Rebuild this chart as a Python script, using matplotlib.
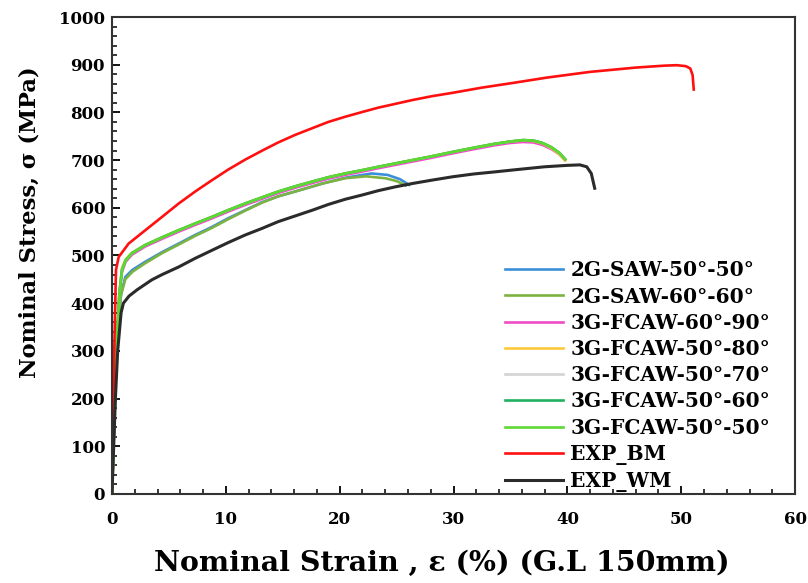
import numpy as np
import matplotlib
matplotlib.use("Agg")
import matplotlib.pyplot as plt
from matplotlib.ticker import MultipleLocator

plt.rcParams["font.family"] = ["DejaVu Serif"]
plt.rcParams["font.weight"] = "bold"

saw50_x = [0, 0.3, 0.5, 0.8, 1.17, 1.8, 2.93, 4.4, 5.86, 7.3, 8.79, 10.2, 11.7, 13.2, 14.6, 16.5, 18.5, 20.5, 22.8, 24.2, 25.3, 26.1]
saw50_y = [0, 250, 350, 420, 455, 470, 487, 507, 525, 543, 560, 578, 595, 612, 624, 637, 651, 663, 672, 669, 660, 648]

saw60_x = [0, 0.3, 0.5, 0.8, 1.17, 1.8, 2.93, 4.4, 5.86, 7.3, 8.79, 10.2, 11.7, 13.2, 14.6, 16.5, 18.5, 20.5, 22.3, 24.0, 25.0, 25.8]
saw60_y = [0, 250, 350, 418, 450, 466, 484, 505, 523, 541, 558, 576, 594, 611, 624, 637, 651, 662, 666, 662, 656, 647]

fcaw_x = [0, 0.4, 0.65, 0.88, 1.2, 1.76, 2.93, 4.4, 5.86, 7.3, 8.79, 10.2, 11.7, 13.2, 14.6, 16.1, 17.6, 19.0, 20.5, 22.0, 23.4, 24.9,
          26.4, 28.1, 29.9, 31.8, 33.6, 35.0, 36.1, 37.0, 37.8, 38.6, 39.3, 39.8]
fcaw_y = [0, 300, 420, 470, 490, 505, 522, 538, 553, 567, 581, 595, 609, 622, 634, 645, 655, 664, 672, 679, 686, 693,
          700, 708, 717, 726, 734, 739, 742, 741, 736, 727, 715, 702]
f6090_y = [0, 300, 420, 466, 487, 502, 519, 535, 550, 564, 578, 592, 606, 619, 631, 642, 652, 661, 669, 676, 683, 690,
           697, 705, 714, 723, 731, 736, 738, 737, 732, 723, 712, 700]
f5080_y = [0, 300, 420, 474, 492, 506, 522, 538, 553, 567, 581, 595, 609, 622, 634, 645, 655, 664, 672, 679, 686, 693,
           700, 708, 717, 726, 734, 739, 741, 740, 735, 725, 712, 699]

bm_x = [0, 0.2, 0.35, 0.59, 1.46, 2.93, 4.4, 5.86, 7.3, 8.79, 10.2, 11.7, 13.2, 14.6, 16.1, 17.6, 19.0, 20.5, 22.0, 23.4, 24.9,
        26.4, 28.1, 29.9, 32.5, 35.0, 38.2, 42.0, 46.0, 48.5, 49.6, 50.4, 50.8, 51.0, 51.1]
bm_y = [0, 300, 470, 497, 525, 553, 581, 609, 634, 658, 680, 701, 720, 737, 753, 767, 780, 791, 801, 810, 818,
        826, 834, 841, 852, 861, 873, 885, 894, 898, 899, 897, 892, 878, 848]

wm_x = [0, 0.3, 0.5, 0.8, 1.0, 1.5, 2.2, 3.5, 4.4, 5.86, 7.3, 8.79, 10.2, 11.7, 13.2, 14.6, 16.1, 17.6, 19.0, 20.5, 22.0, 23.4,
        24.9, 26.4, 28.1, 29.9, 31.8, 33.5, 35.5, 38.0, 40.0, 41.1, 41.7, 42.1, 42.4]
wm_y = [0, 200, 300, 380, 400, 415, 428, 449, 460, 476, 494, 511, 527, 543, 557, 571, 583, 595, 607, 618, 627, 636,
        644, 651, 658, 665, 671, 675, 680, 686, 689, 690, 686, 672, 641]

fig = plt.figure(figsize=(8.08, 5.83), dpi=100)
ax = fig.add_axes([0.1386, 0.1527, 0.8454, 0.8181])

lw = 1.9
ax.plot(saw50_x, saw50_y, color="#3A8FD8", lw=lw, label="2G-SAW-50°-50°")
ax.plot(saw60_x, saw60_y, color="#7CB342", lw=lw, label="2G-SAW-60°-60°")
ax.plot(fcaw_x, f6090_y, color="#F04BC8", lw=lw, label="3G-FCAW-60°-90°")
ax.plot(fcaw_x, f5080_y, color="#FFC83A", lw=lw, label="3G-FCAW-50°-80°")
ax.plot(fcaw_x, fcaw_y, color="#D3D3D3", lw=lw, label="3G-FCAW-50°-70°")
ax.plot(fcaw_x, fcaw_y, color="#1FB060", lw=lw, label="3G-FCAW-50°-60°")
ax.plot(fcaw_x, fcaw_y, color="#5ED833", lw=lw, label="3G-FCAW-50°-50°")
ax.plot(bm_x, bm_y, color="#FF1010", lw=lw, label="EXP_BM")
ax.plot(wm_x, wm_y, color="#2B2B2B", lw=2.2, label="EXP_WM")

ax.set_xlim(0, 60)
ax.set_ylim(0, 1000)
ax.xaxis.set_major_locator(MultipleLocator(10))
ax.xaxis.set_minor_locator(MultipleLocator(2))
ax.yaxis.set_major_locator(MultipleLocator(100))
ax.yaxis.set_minor_locator(MultipleLocator(20))
ax.tick_params(which="major", direction="in", length=6, width=1.3, labelsize=12)
ax.tick_params(axis="x", which="major", pad=12)
ax.tick_params(axis="y", which="major", pad=5)
ax.tick_params(which="minor", direction="in", length=3.5, width=1.1)
for s in ax.spines.values():
    s.set_linewidth(1.5)
    s.set_color("#333333")

ax.set_xlabel("Nominal Strain , ε (%) (G.L 150mm)", fontsize=20.5, fontweight="bold")
ax.set_ylabel("Nominal Stress, σ (MPa)", fontsize=16.3, fontweight="bold")
ax.xaxis.set_label_coords(0.483, -0.118)
ax.yaxis.set_label_coords(-0.105, 0.57)

ax.legend(loc="upper left", bbox_to_anchor=(0.575, 0.49), frameon=False, fontsize=14.5,
          handlelength=2.9, handletextpad=0.36, labelspacing=0.31, borderpad=0, borderaxespad=0)

fig.savefig("out.png", dpi=100)
